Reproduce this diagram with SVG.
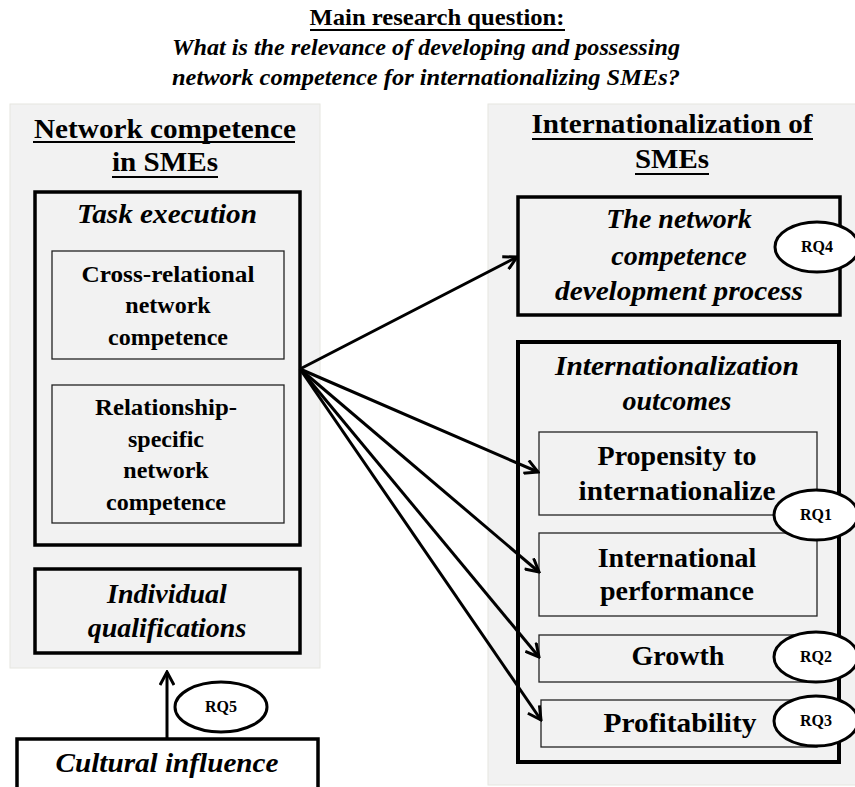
<svg xmlns="http://www.w3.org/2000/svg" width="855" height="787" viewBox="0 0 855 787" font-family="'Liberation Serif', 'DejaVu Serif', 'Times New Roman', serif">
<defs>
<style>
.bg{fill:#f2f2f2;stroke:#e6e6e0;stroke-width:1}
.thick{fill:#f2f2f2;stroke:#000;stroke-width:3.5}
.thin{fill:#f2f2f2;stroke:#222;stroke-width:1.3}
.ell{fill:#fff;stroke:#000;stroke-width:3}
.conn{stroke:#000;stroke-width:3;fill:none;marker-end:url(#arr)}
.ul{stroke:#000;stroke-width:2}
text{font-family:'Liberation Serif', 'DejaVu Serif', 'Times New Roman', serif;fill:#000;text-anchor:middle;font-weight:bold}
.it{font-style:italic}
.h{font-size:28px}
.s{font-size:24px}
.rq{font-size:16px}
</style>
<marker id="arr" viewBox="0 0 16 16" refX="14" refY="8" markerWidth="16" markerHeight="16" markerUnits="userSpaceOnUse" orient="auto">
<path d="M1,1 L14,8 L1,15" fill="none" stroke="#000" stroke-width="3"/>
</marker>
</defs>
<rect width="855" height="787" fill="#fff"/>

<g id="title">
<text x="437" y="25" font-size="23" textLength="255" lengthAdjust="spacingAndGlyphs">Main research question:</text>
<line class="ul" x1="310" y1="30" x2="565" y2="30"/>
<text class="it" x="426" y="55" font-size="23" textLength="508" lengthAdjust="spacingAndGlyphs">What is the relevance of developing and possessing</text>
<text class="it" x="426" y="85" font-size="23" textLength="508" lengthAdjust="spacingAndGlyphs">network competence for internationalizing SMEs?</text>
</g>

<g id="panel-left">
<rect class="bg" x="10" y="104" width="310" height="564"/>
<text class="h" x="165" y="138" textLength="262" lengthAdjust="spacingAndGlyphs">Network competence</text>
<line class="ul" x1="33" y1="142" x2="295" y2="142"/>
<text class="h" x="165" y="171" textLength="106" lengthAdjust="spacingAndGlyphs">in SMEs</text>
<line class="ul" x1="112" y1="177" x2="218" y2="177"/>
</g>

<g id="task-execution">
<rect class="thick" x="35" y="192" width="265" height="353"/>
<text class="h it" x="167" y="223" textLength="180" lengthAdjust="spacingAndGlyphs">Task execution</text>
</g>

<g id="cross-relational">
<rect class="thin" x="52" y="251" width="232" height="108"/>
<text class="s" x="168" y="282" textLength="173" lengthAdjust="spacingAndGlyphs">Cross-relational</text>
<text class="s" x="168" y="313">network</text>
<text class="s" x="168" y="345">competence</text>
</g>

<g id="relationship-specific">
<rect class="thin" x="52" y="385" width="232" height="138"/>
<text class="s" x="166" y="415" textLength="142" lengthAdjust="spacingAndGlyphs">Relationship-</text>
<text class="s" x="166" y="447">specific</text>
<text class="s" x="166" y="478">network</text>
<text class="s" x="166" y="510">competence</text>
</g>

<g id="individual-qualifications">
<rect class="thick" x="35" y="569" width="265" height="84"/>
<text class="h it" x="167" y="603">Individual</text>
<text class="h it" x="167" y="637">qualifications</text>
</g>

<g id="cultural-influence">
<rect x="17" y="739" width="301" height="52" fill="#fff" stroke="#000" stroke-width="3.5"/>
<text class="h it" x="167" y="772" textLength="223" lengthAdjust="spacingAndGlyphs">Cultural influence</text>
</g>

<g id="panel-right">
<rect class="bg" x="488" y="104" width="370" height="681"/>
<text class="h" x="672" y="133" textLength="281" lengthAdjust="spacingAndGlyphs">Internationalization of</text>
<line class="ul" x1="532" y1="139" x2="813" y2="139"/>
<text class="h" x="672" y="168" textLength="74" lengthAdjust="spacingAndGlyphs">SMEs</text>
<line class="ul" x1="635" y1="174" x2="709" y2="174"/>
</g>

<g id="development-process">
<rect class="thick" x="518" y="197" width="322" height="118"/>
<text class="h it" x="679" y="228">The network</text>
<text class="h it" x="679" y="265">competence</text>
<text class="h it" x="679" y="300" textLength="248" lengthAdjust="spacingAndGlyphs">development process</text>
</g>

<g id="outcomes">
<rect x="518" y="342" width="321" height="420" fill="#f2f2f2" stroke="#000" stroke-width="4"/>
<text class="h it" x="677" y="375" textLength="244" lengthAdjust="spacingAndGlyphs">Internationalization</text>
<text class="h it" x="677" y="410">outcomes</text>
</g>

<g id="propensity">
<rect class="thin" x="539" y="432" width="278" height="83"/>
<text class="h" x="677" y="465">Propensity to</text>
<text class="h" x="677" y="500" textLength="197" lengthAdjust="spacingAndGlyphs">internationalize</text>
</g>

<g id="international-performance">
<rect class="thin" x="539" y="533" width="278" height="83"/>
<text class="h" x="677" y="567">International</text>
<text class="h" x="677" y="600">performance</text>
</g>

<g id="growth">
<rect class="thin" x="539" y="635" width="278" height="47"/>
<text class="h" x="678" y="665">Growth</text>
</g>

<g id="profitability">
<rect class="thin" x="541" y="700" width="276" height="47"/>
<text class="h" x="680" y="732" textLength="153" lengthAdjust="spacingAndGlyphs">Profitability</text>
</g>

<g id="connectors">
<line class="conn" x1="300" y1="369" x2="517" y2="257"/>
<line class="conn" x1="300" y1="369" x2="538" y2="472"/>
<line class="conn" x1="300" y1="369" x2="539" y2="572"/>
<line class="conn" x1="300" y1="369" x2="539" y2="657"/>
<line class="conn" x1="300" y1="369" x2="541" y2="720"/>
<line class="conn" x1="167" y1="739" x2="167" y2="672"/>
</g>

<g id="rq4"><ellipse class="ell" cx="817" cy="247" rx="42" ry="25"/><text class="rq" x="817" y="252">RQ4</text></g>
<g id="rq1"><ellipse class="ell" cx="816" cy="515" rx="42" ry="25"/><text class="rq" x="816" y="520">RQ1</text></g>
<g id="rq2"><ellipse class="ell" cx="816" cy="657" rx="42" ry="25"/><text class="rq" x="816" y="662">RQ2</text></g>
<g id="rq3"><ellipse class="ell" cx="816" cy="721" rx="42" ry="25"/><text class="rq" x="816" y="726">RQ3</text></g>
<g id="rq5"><ellipse class="ell" cx="221" cy="707" rx="46" ry="25"/><text class="rq" x="221" y="712">RQ5</text></g>
</svg>
